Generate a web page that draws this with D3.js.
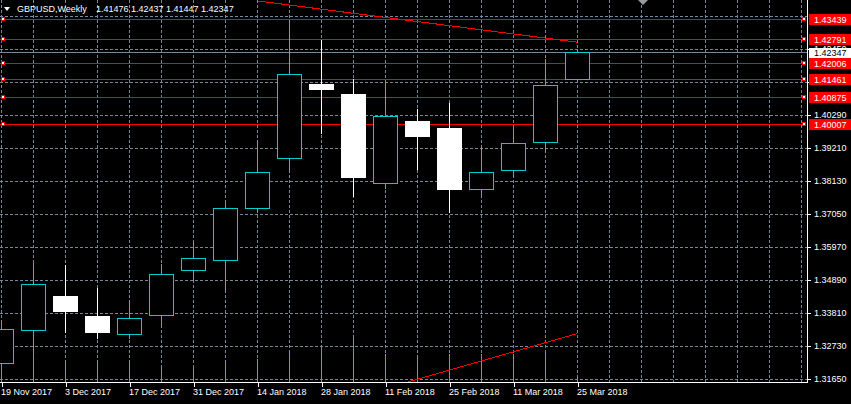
<!DOCTYPE html>
<html><head><meta charset="utf-8">
<script src="https://cdn.jsdelivr.net/npm/d3@7"></script>
<style>
html,body{margin:0;padding:0;background:#000;}
svg{display:block;}
text{font-family:"Liberation Sans",Arial,sans-serif;font-size:9px;}
</style></head>
<body>
<svg id="c" width="851" height="404"></svg>
<script>
// ---- data ----
const opens  = [1.32174,1.33254,1.34376,1.33722,1.33123,1.33745,1.35217,1.35545,1.37233,1.38883,1.41314,1.40987,1.38051,1.40103,1.39874,1.37855,1.38490,1.39406,1.41476];
const highs  = [1.33591,1.35479,1.35400,1.34671,1.34245,1.35456,1.36209,1.37452,1.39482,1.43439,1.42791,1.41511,1.41440,1.40519,1.40709,1.39308,1.39940,1.42155,1.42437];
const lows   = [1.32085,1.32445,1.33175,1.33002,1.32992,1.33394,1.34900,1.34550,1.37102,1.38477,1.39701,1.37626,1.37901,1.38523,1.37102,1.37626,1.38303,1.39089,1.41447];
const closes = [1.33286,1.34759,1.33862,1.33175,1.33646,1.35086,1.35610,1.37246,1.38425,1.41632,1.41128,1.38248,1.40257,1.39590,1.37878,1.38425,1.39374,1.41272,1.42347];
const volumes = [210,270,220,220,220,153,160,213,230,293,337,470,280,263,280,280,277,293,50];
const xLabelIdx = [0,2,4,6,8,10,12,14,16,18];
const xLabels = ["19 Nov 2017","3 Dec 2017","17 Dec 2017","31 Dec 2017","14 Jan 2018","28 Jan 2018","11 Feb 2018","25 Feb 2018","11 Mar 2018","25 Mar 2018"];
const priceTicks = [1.31650,1.32730,1.33810,1.34890,1.35970,1.37050,1.38130,1.39210,1.40290,1.41370,1.42450,1.43530];
const priceLabels = [1.31650,1.32730,1.33810,1.34890,1.35970,1.37050,1.38130,1.39210,1.40290,1.41370,1.42450];
const levels = [1.43439,1.42791,1.42006,1.41461,1.40875,1.40007];
const currentPrice = 1.42347;
const upperTrend = [[8,1.44040],[18,1.42689]];
const lowerTrend = [[12,1.31359],[18,1.33155]];
const header = "GBPUSD,Weekly";
const headerValues = "1.41476 1.42437 1.41447 1.42347";

// ---- layout ----
const svg = d3.select("#c");
const W = 851, H = 404, plotR = 807.5, plotB = 382.5;
svg.append("rect").attr("width",W).attr("height",H).attr("fill","#000");

const x = d3.scaleLinear().domain([0,1]).range([1.5,33.5]);
const y = d3.scaleLinear().domain([1.3165,1.4029]).range([379.5,115.5]);
const v = d3.scaleLinear().domain([0,1000]).range([382,282]);
const cy = p => Math.round(y(p)-0.5)+0.5;

const grid = "#778899", bull = "#00CED1", bear = "#ffffff", volc = "#32CD32", red = "#ff0000";

svg.append("defs").append("clipPath").attr("id","plot")
  .append("rect").attr("x",0).attr("y",0).attr("width",807).attr("height",382);

const g = svg.append("g").attr("clip-path","url(#plot)");

// grid
const vgrid = d3.range(0,26);
g.selectAll(".vg").data(vgrid).join("line")
  .attr("x1",d=>x(d)).attr("x2",d=>x(d)).attr("y1",0).attr("y2",382)
  .attr("stroke",grid).attr("stroke-dasharray","3,2").attr("shape-rendering","crispEdges");
g.selectAll(".hg").data(priceTicks).join("line")
  .attr("x1",0).attr("x2",807).attr("y1",d=>cy(d)).attr("y2",d=>cy(d))
  .attr("stroke",grid).attr("stroke-dasharray","3,2").attr("shape-rendering","crispEdges");

// volumes
g.selectAll(".vol").data(volumes).join("line")
  .attr("x1",(d,i)=>x(i)).attr("x2",(d,i)=>x(i)).attr("y1",d=>v(d)).attr("y2",382)
  .attr("stroke",volc).attr("shape-rendering","crispEdges");

// horizontal levels
g.selectAll(".lvl").data(levels).join("line")
  .attr("x1",0).attr("x2",806).attr("y1",d=>cy(d)).attr("y2",d=>cy(d))
  .attr("stroke",red).attr("shape-rendering","crispEdges");
g.append("line").attr("x1",0).attr("x2",807).attr("y1",cy(currentPrice)).attr("y2",cy(currentPrice))
  .attr("stroke",grid).attr("shape-rendering","crispEdges");

// trendlines
const tl = d3.line().x(d=>x(d[0])).y(d=>y(d[1]));
[upperTrend, lowerTrend].forEach(t=>{
  g.append("path").attr("d",tl(t)).attr("stroke",red).attr("fill","none").attr("shape-rendering","crispEdges");
});

// candles
const idx = d3.range(opens.length);
const cg = g.append("g");
idx.forEach(i=>{
  const up = closes[i] >= opens[i];
  const col = up ? bull : bear;
  cg.append("line").attr("x1",x(i)).attr("x2",x(i)).attr("y1",cy(highs[i])).attr("y2",cy(lows[i]))
    .attr("stroke",col).attr("shape-rendering","crispEdges");
  const top = cy(Math.max(opens[i],closes[i])), bot = cy(Math.min(opens[i],closes[i]));
  if (up) {
    cg.append("rect").attr("x",x(i)-12).attr("y",top).attr("width",24).attr("height",Math.max(bot-top,1))
      .attr("fill","#000").attr("stroke",bull).attr("shape-rendering","crispEdges");
  } else {
    cg.append("rect").attr("x",x(i)-12.5).attr("y",top-0.5).attr("width",25).attr("height",Math.max(bot-top+1,1))
      .attr("fill",bear).attr("shape-rendering","crispEdges");
  }
});

// level end markers
g.selectAll(".ml").data(levels).join("rect")
  .attr("x",1.5).attr("y",d=>cy(d)-2).attr("width",3).attr("height",3)
  .attr("fill","#fff").attr("stroke",red).attr("shape-rendering","crispEdges");
g.selectAll(".mr").data(levels).join("rect")
  .attr("x",802.5).attr("y",d=>cy(d)-2).attr("width",3).attr("height",3)
  .attr("fill","#fff").attr("stroke",red).attr("shape-rendering","crispEdges");

// shift marker
svg.append("path").attr("d","M638,0 L648,0 L643,5 Z").attr("fill","#9a9a9a");

// borders
svg.append("line").attr("x1",plotR).attr("x2",plotR).attr("y1",0).attr("y2",plotB).attr("stroke","#fff").attr("shape-rendering","crispEdges");
svg.append("line").attr("x1",0).attr("x2",plotR).attr("y1",plotB).attr("y2",plotB).attr("stroke","#fff").attr("shape-rendering","crispEdges");

// y axis
const yAxis = d3.axisRight(y).tickValues(priceLabels).tickFormat(d3.format(".5f")).tickSize(3).tickPadding(4);
const ya = svg.append("g").attr("transform",`translate(${plotR},0)`).call(yAxis);
ya.select(".domain").remove();
ya.selectAll(".tick").attr("transform",d=>`translate(0,${cy(d)})`);
ya.selectAll("line").attr("stroke","#fff").attr("shape-rendering","crispEdges");
ya.selectAll("text").attr("fill","#fff").attr("font-size","9px").attr("font-family","Liberation Sans, Arial, sans-serif").attr("x",6.5);

// level labels
const lab = svg.append("g");
levels.forEach(p=>{
  const yy = cy(p);
  lab.append("rect").attr("x",809).attr("y",yy-5.5).attr("width",42).attr("height",11).attr("fill",red);
  lab.append("text").attr("x",814).attr("y",yy).attr("dy","0.34em").attr("fill","#fff").text(d3.format(".5f")(p));
});
{
  const yy = cy(currentPrice);
  lab.append("rect").attr("x",809).attr("y",yy-4.5).attr("width",42).attr("height",10).attr("fill","#fff");
  lab.append("text").attr("x",814).attr("y",yy+0.5).attr("dy","0.34em").attr("fill","#000").text(d3.format(".5f")(currentPrice));
}

// x axis
const xAxis = d3.axisBottom(x).tickValues(xLabelIdx).tickFormat((d,i)=>xLabels[i]).tickSize(4).tickPadding(2);
const xa = svg.append("g").attr("transform",`translate(0,${plotB})`).call(xAxis);
xa.select(".domain").remove();
xa.selectAll("line").attr("stroke","#fff").attr("shape-rendering","crispEdges");
xa.selectAll("text").attr("fill","#fff").attr("text-anchor","start").attr("dx","-1")
  .attr("font-size","9px").attr("font-family","Liberation Sans, Arial, sans-serif")
  .attr("y",12).attr("dy","0");

// header
svg.append("path").attr("d","M4,7 L10,7 L7,11 Z").attr("fill","#fff");
svg.append("text").attr("x",17).attr("y",11.5).attr("fill","#fff").attr("font-size","9.4px").text(header);
svg.append("text").attr("x",96).attr("y",11.5).attr("fill","#fff").attr("font-size","9.4px").text(headerValues);
</script>
</body></html>
